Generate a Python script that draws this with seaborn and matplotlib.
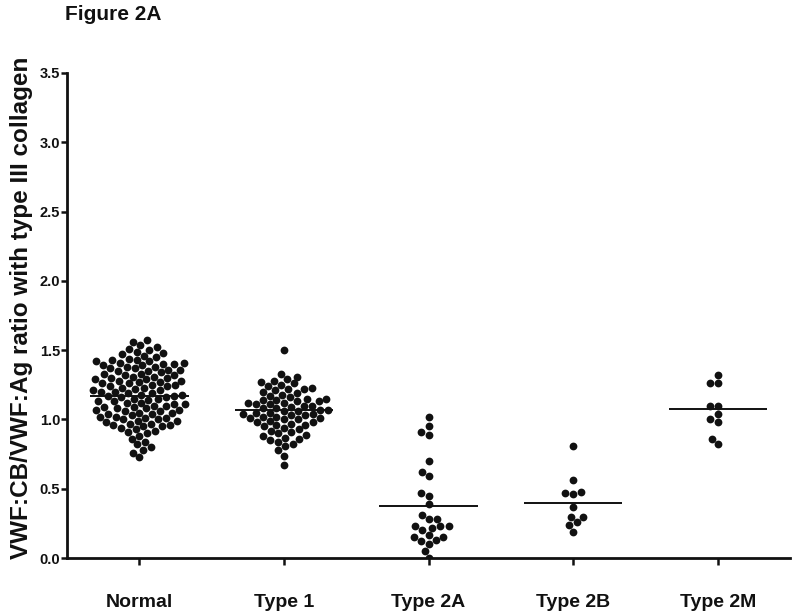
#-------------------------------------------------------------------------------------------
# Figure 2A - VWF:CB/VWF:Ag ratio with type III collagen (dot plot by VWD type)
#-------------------------------------------------------------------------------------------

import pandas as pd
import numpy as np
import matplotlib
matplotlib.use("Agg")
import matplotlib.pyplot as plt
import seaborn as sns

#-------------------------------------------------------------------------------------------
# DATA
#-------------------------------------------------------------------------------------------
groups = ['Normal', 'Type 1', 'Type 2A', 'Type 2B', 'Type 2M']

normal = [0.73, 0.76, 0.78, 0.80, 0.82, 0.84, 0.86, 0.88, 0.90, 0.91, 0.92, 0.93, 0.94,
          0.95, 0.95, 0.96, 0.96, 0.97, 0.97, 0.98, 0.99, 0.99,
          1.00, 1.00, 1.01, 1.01, 1.02, 1.02, 1.03, 1.04, 1.04, 1.05, 1.05, 1.06, 1.06,
          1.07, 1.07, 1.08, 1.08, 1.09, 1.09,
          1.10, 1.10, 1.11, 1.11, 1.12, 1.12, 1.13, 1.13, 1.14, 1.15, 1.15, 1.16, 1.16,
          1.17, 1.17, 1.18, 1.18, 1.19, 1.19,
          1.20, 1.20, 1.21, 1.21, 1.22, 1.23, 1.23, 1.24, 1.24, 1.25, 1.25, 1.26, 1.26,
          1.27, 1.27, 1.28, 1.28, 1.29, 1.29,
          1.30, 1.30, 1.31, 1.31, 1.32, 1.32, 1.33, 1.33, 1.34, 1.35, 1.35, 1.36, 1.36,
          1.37, 1.37, 1.38, 1.38, 1.39, 1.39,
          1.40, 1.40, 1.41, 1.41, 1.42, 1.42, 1.43, 1.43, 1.44, 1.45,
          1.46, 1.47, 1.48, 1.49, 1.50, 1.51, 1.52, 1.54, 1.56, 1.57]

type1 = [0.67, 0.74, 0.78,
         0.81, 0.82, 0.84, 0.85, 0.86, 0.87, 0.88, 0.89,
         0.90, 0.91, 0.92, 0.93, 0.94, 0.95, 0.96, 0.96, 0.97, 0.98, 0.98, 0.99,
         1.00, 1.00, 1.01, 1.01, 1.02, 1.02, 1.03, 1.03, 1.04, 1.04, 1.05, 1.05, 1.06,
         1.06, 1.07, 1.07, 1.08, 1.08, 1.09,
         1.10, 1.10, 1.11, 1.11, 1.12, 1.12, 1.13, 1.13, 1.14, 1.14, 1.15, 1.15, 1.16,
         1.17, 1.18, 1.19,
         1.20, 1.21, 1.22, 1.22, 1.23, 1.24, 1.25, 1.26, 1.27, 1.28,
         1.29, 1.31, 1.33, 1.50]

type2a = [1.02, 0.95, 0.91, 0.89, 0.70, 0.62, 0.59, 0.47, 0.45, 0.39, 0.31, 0.28, 0.28,
          0.23, 0.23, 0.23, 0.22, 0.20, 0.17, 0.15, 0.15, 0.13, 0.12, 0.10, 0.05, 0.00]

type2b = [0.81, 0.56, 0.48, 0.47, 0.46, 0.37, 0.30, 0.30, 0.26, 0.24, 0.19]

type2m = [1.32, 1.26, 1.26, 1.10, 1.10, 1.04, 1.00, 0.98, 0.86, 0.82]

# Horizontal centre line drawn for each group
centre_lines = [1.17, 1.07, 0.375, 0.40, 1.075]

yticks = [0.0, 0.5, 1.0, 1.5, 2.0, 2.5, 3.0, 3.5]

#-------------------------------------------------------------------------------------------
# LONG FORMAT TABLE
#-------------------------------------------------------------------------------------------
values = [normal, type1, type2a, type2b, type2m]
df = pd.DataFrame({
    'group': np.repeat(groups, [len(v) for v in values]),
    'ratio': np.concatenate(values),
})

#-------------------------------------------------------------------------------------------
# PLOT
#-------------------------------------------------------------------------------------------
sns.set_style('ticks')
plt.rcParams['font.family'] = ['Liberation Sans', 'DejaVu Sans']

fig = plt.figure(figsize=(8, 6.16), dpi=100)
ax = fig.add_axes([0.084, 0.094, 0.9035, 0.7875])

sns.swarmplot(data=df, x='group', y='ratio', order=groups, color='#111111',
              size=5.6, linewidth=0, ax=ax)

# Centre lines
for i, y in enumerate(centre_lines):
    ax.hlines(y, i - 0.34, i + 0.34, color='#111111', linewidth=1.4, zorder=3)

ax.set_xlim(-0.5, 4.5)
ax.set_ylim(0, 3.5)
ax.set_yticks(yticks)
ax.set_yticklabels([f'{t:.1f}' for t in yticks])
ax.set_xlabel('')
ax.set_ylabel('')

# Axes style
sns.despine(ax=ax)
for side in ['left', 'bottom']:
    ax.spines[side].set_linewidth(2.0)
    ax.spines[side].set_color('#111111')
ax.tick_params(axis='y', length=4, width=1.8, pad=1, labelsize=10.5, colors='#111111')
ax.tick_params(axis='x', length=5, width=1.8, pad=21, labelsize=14, colors='#111111')
for lab in ax.get_xticklabels() + ax.get_yticklabels():
    lab.set_fontweight('bold')

# Titles
fig.text(0.081, 1 - 15 / 616, 'Figure 2A', ha='left', va='center',
         fontsize=15, fontweight='bold', color='#111111')
fig.text(22 / 800, 1 - 308 / 616, 'VWF:CB/VWF:Ag ratio with type III collagen',
         rotation=90, ha='center', va='center', fontsize=17.5, fontweight='bold',
         color='#111111')

plt.savefig('out.png', dpi=100)
